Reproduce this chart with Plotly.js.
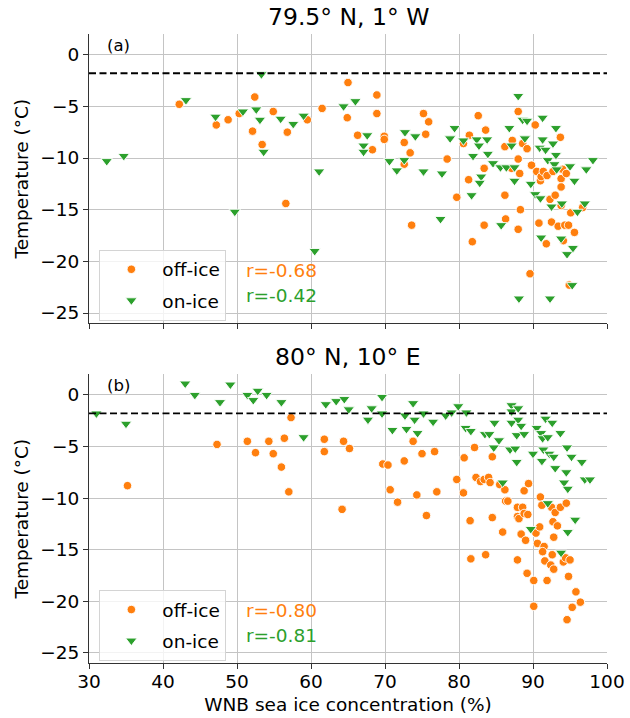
<!DOCTYPE html>
<html>
<head>
<meta charset="utf-8">
<script src="https://cdn.plot.ly/plotly-3.0.1.min.js"></script>
<style>
  html, body { margin: 0; padding: 0; background: #fff; }
  #chart { width: 630px; height: 718px; }
</style>
</head>
<body>
<div id="chart"></div>
<script>
// ── Data ─────────────────────────────────────
const FREEZING = -1.8;

// (a) 79.5° N, 1° W
const aOffX = [42.2, 47.2, 48.8, 50.3, 52.1, 52.4, 53.4, 54.9, 56.6, 56.8, 59.5, 61.5, 64.9, 65.0,
  68.9, 68.9, 66.3, 68.3, 69.9, 69.9, 72.6, 73.4, 72.6, 75.2, 75.9, 75.5, 73.6, 78.4, 79.7, 80.6,
  81.4, 82.6, 83.6, 81.3, 83.4, 81.8, 83.4, 86.2, 87.2, 86.2, 86.3, 88.0, 88.0, 87.1, 88.2, 88.3,
  88.0, 88.6, 89.2, 90.3, 89.8, 90.5, 91.0, 91.1, 91.4, 91.9, 92.7, 93.7, 93.8, 93.8, 94.0, 94.5,
  92.3, 93.0, 93.8, 90.8, 92.5, 93.4, 94.3, 94.8, 95.6, 91.8, 94.1, 89.6, 94.9, 95.1, 96.7];
const aOffY = [-4.8, -6.8, -6.3, -5.7, -7.4, -4.1, -8.7, -5.5, -14.4, -7.5, -6.3, -5.2, -6.1, -2.7,
  -3.9, -5.7, -7.8, -9.2, -7.9, -8.2, -8.5, -9.5, -10.6, -5.7, -6.5, -7.7, -16.5, -10.1, -13.8, -8.6,
  -7.8, -5.9, -7.3, -12.1, -11.0, -18.1, -16.5, -8.9, -8.3, -13.6, -15.9, -5.5, -10.1, -11.0, -11.5, -15.0,
  -16.9, -8.6, -9.1, -6.8, -10.7, -11.3, -12.2, -11.8, -11.3, -11.7, -11.3, -8.0, -12.0, -12.8, -11.1, -11.5,
  -14.0, -13.6, -14.6, -16.3, -16.2, -16.6, -16.5, -16.5, -17.2, -18.3, -18.0, -21.2, -22.3, -15.3, -14.8];

const aOnX = [32.4, 34.7, 43.1, 47.1, 49.7, 50.8, 52.6, 53.1, 53.3, 53.6, 55.9, 57.6, 59.0, 61.1, 60.5, 64.4,
  66.0, 67.6, 67.1, 67.1, 70.6, 71.6, 72.7, 72.6, 74.1, 75.2, 77.7, 77.5, 78.8, 79.4, 80.6, 81.9,
  82.4, 82.7, 83.8, 83.9, 83.0, 82.8, 81.7, 84.6, 85.6, 86.4, 85.7, 86.8, 87.1, 87.5, 87.5, 88.0,
  88.6, 89.2, 88.9, 89.7, 90.3, 91.0, 91.1, 91.3, 91.3, 90.9, 91.7, 92.0, 92.7, 93.1, 93.1, 92.9,
  93.2, 93.9, 92.5, 93.8, 94.6, 95.4, 95.0, 95.6, 96.0, 97.0, 97.2, 98.1, 95.3, 88.1, 92.3];
const aOnY = [-10.3, -9.8, -4.4, -6.0, -15.2, -5.5, -5.3, -6.3, -1.9, -9.4, -6.2, -6.7, -5.9, -11.3, -19.0, -5.0,
  -4.5, -7.8, -8.8, -9.4, -10.3, -11.2, -7.5, -10.2, -7.9, -11.3, -11.5, -15.9, -8.1, -7.1, -8.3, -9.8,
  -8.2, -8.8, -8.2, -9.6, -11.8, -12.4, -13.6, -10.5, -10.9, -10.9, -16.5, -7.1, -8.8, -10.9, -12.2, -4.0,
  -6.3, -6.4, -8.1, -12.5, -13.5, -13.9, -17.7, -6.1, -8.2, -9.0, -9.2, -10.2, -8.6, -7.1, -9.7, -10.6,
  -11.1, -14.4, -14.7, -17.8, -19.3, -18.7, -10.8, -12.2, -15.2, -14.4, -11.1, -10.2, -22.3, -23.6, -23.6];

// (b) 80° N, 10° E
const bOffX = [35.2, 47.3, 51.4, 52.5, 54.3, 54.9, 56.4, 56.0, 57.0, 57.3, 61.8, 61.8, 64.4, 64.2, 65.2,
  69.7, 70.4, 70.7, 71.7, 72.6, 73.8, 74.3, 75.0, 75.6, 76.7, 77.0, 79.7, 80.6, 80.7, 82.1, 81.6,
  81.5, 82.3, 82.9, 83.4, 84.0, 84.2, 84.5, 84.5, 83.6, 85.5, 86.2, 86.3, 86.6, 85.9, 87.9, 88.6,
  87.9, 88.1, 88.8, 89.3, 88.8, 89.4, 88.4, 89.0, 87.9, 89.2, 90.1, 90.1, 90.4, 90.6, 90.9, 91.0,
  91.2, 91.5, 91.3, 92.5, 93.0, 92.7, 93.3, 93.7, 94.5, 92.8, 92.6, 91.6, 92.4, 92.8, 91.9, 94.1,
  94.4, 95.0, 94.8, 95.8, 96.4, 95.3, 94.6];
const bOffY = [-8.8, -4.8, -4.5, -5.6, -4.5, -5.7, -4.2, -7.0, -9.4, -2.2, -4.3, -5.5, -4.5, -11.1, -5.2,
  -6.7, -6.8, -9.2, -10.4, -6.4, -4.5, -9.7, -5.7, -11.7, -5.5, -9.4, -8.2, -9.5, -6.1, -5.1, -15.9,
  -12.2, -8.0, -8.4, -8.2, -8.0, -8.5, -6.0, -11.9, -15.5, -8.7, -9.2, -10.3, -10.3, -13.3, -10.9, -10.9,
  -11.8, -12.0, -11.5, -11.6, -9.3, -8.6, -13.5, -14.1, -16.0, -17.3, -18.0, -20.5, -13.4, -14.4, -12.8, -9.9,
  -10.7, -14.7, -15.2, -10.9, -11.4, -12.3, -12.7, -10.9, -10.5, -13.8, -15.5, -16.1, -16.5, -16.9, -18.0, -16.2,
  -15.8, -16.0, -17.6, -19.1, -20.1, -20.6, -21.8];

const bOnX = [31.0, 35.0, 43.0, 44.3, 47.7, 49.1, 51.4, 52.2, 52.8, 54.0, 56.0, 59.0, 62.0, 63.4, 64.5, 65.1,
  67.7, 68.2, 69.6, 69.6, 71.0, 72.7, 72.9, 73.8, 74.0, 74.4, 75.2, 76.5, 78.2, 79.0, 79.9, 81.0,
  80.9, 81.6, 83.5, 84.1, 84.8, 84.7, 85.4, 85.9, 86.9, 87.1, 87.1, 88.0, 87.1, 88.0, 88.4, 87.8,
  88.8, 87.6, 87.8, 90.0, 89.7, 90.5, 91.1, 91.7, 92.6, 91.3, 92.0, 91.4, 91.2, 92.2, 92.8, 93.7,
  93.0, 92.0, 93.8, 94.6, 95.2, 94.5, 94.2, 94.7, 96.6, 97.0, 97.7, 95.7, 94.7];
const bOnY = [-1.8, -2.8, 1.1, 0.0, -0.7, 1.0, 0.0, -0.5, 0.4, 0.0, -0.7, -4.1, -0.9, -0.6, -0.4, -1.4,
  -2.4, -1.3, -0.2, -1.8, -3.4, -2.0, -3.3, -0.8, -2.4, -3.7, -1.8, -2.6, -2.0, -1.7, -1.1, -1.7,
  -3.2, -3.5, -3.8, -3.8, -2.7, -5.1, -4.4, -8.5, -5.3, -1.0, -1.6, -1.3, -2.7, -2.4, -3.0, -3.9,
  -3.8, -5.2, -6.5, -5.7, -13.0, -3.2, -3.7, -2.3, -2.7, -4.2, -4.1, -5.3, -6.4, -5.7, -6.0, -3.7,
  -7.1, -10.5, -15.3, -5.1, -6.0, -7.5, -8.5, -9.1, -6.5, -8.2, -8.2, -12.1, -13.3];

const panelTitles = ["79.5° N, 1° W", "80° N, 10° E"];
const panelTags = ["(a)", "(b)"];
const rOff = ["r=-0.68", "r=-0.80"];
const rOn = ["r=-0.42", "r=-0.81"];

// ── Style ─────────────────────────────────────
const ORANGE = "#ff7f0e";
const GREEN = "#2ca02c";
const FONT = "DejaVu Sans";

function offTrace(x, y, xa, ya, legend) {
  return {
    type: "scatter", mode: "markers", name: "off-ice",
    x: x, y: y, xaxis: xa, yaxis: ya, legend: legend, legendgroup: legend + "off",
    marker: { symbol: "circle", size: 8.5, color: ORANGE, line: { color: "#fff", width: 0.9 } },
  };
}
function onTrace(x, y, xa, ya, legend) {
  return {
    type: "scatter", mode: "markers", name: "on-ice",
    x: x, y: y, xaxis: xa, yaxis: ya, legend: legend, legendgroup: legend + "on",
    marker: { symbol: "triangle-down", size: 10, color: GREEN, line: { color: "#fff", width: 0.9 } },
  };
}

const traces = [
  offTrace(aOffX, aOffY, "x", "y", "legend"),
  onTrace(aOnX, aOnY, "x", "y", "legend"),
  offTrace(bOffX, bOffY, "x2", "y2", "legend2"),
  onTrace(bOnX, bOnY, "x2", "y2", "legend2"),
];

const xBase = {
  range: [30, 100], autorange: false, dtick: 10, tick0: 30,
  showline: true, linecolor: "#333", linewidth: 1.1,
  ticks: "outside", ticklen: 5, tickwidth: 1, tickcolor: "#333",
  showgrid: true, gridcolor: "#c4c4c4", gridwidth: 1, zeroline: false,
  tickfont: { family: FONT, size: 18.5, color: "#000" },
  ticklabelstandoff: -3,
};
const yBase = {
  range: [-26, 2], autorange: false, dtick: 5, tick0: 0,
  showline: true, linecolor: "#333", linewidth: 1.1,
  ticks: "outside", ticklen: 5, tickwidth: 1, tickcolor: "#333",
  showgrid: true, gridcolor: "#c4c4c4", gridwidth: 1, zeroline: false,
  tickfont: { family: FONT, size: 18.5, color: "#000" },
  title: { text: "Temperature (°C)", font: { family: FONT, size: 18.5, color: "#000" }, standoff: 6 },
};

const legendBase = {
  x: 0.02, xanchor: "left", yanchor: "top",
  bgcolor: "rgba(255,255,255,0.8)", bordercolor: "#d4d4d4", borderwidth: 1,
  font: { family: FONT, size: 18.5, color: "#000" },
  tracegroupgap: 4, itemwidth: 52,
};

const annotations = [];
const shapes = [];
[["x", "y"], ["x2", "y2"]].forEach(([xa, ya], i) => {
  annotations.push(
    { text: panelTitles[i], xref: xa + " domain", yref: ya + " domain", x: 0.5, y: 1,
      xanchor: "center", yanchor: "bottom", yshift: 1, showarrow: false,
      font: { family: FONT, size: 23.5, color: "#000" } },
    { text: panelTags[i], xref: xa + " domain", yref: ya + " domain", x: 0.03, y: 1,
      xanchor: "left", yanchor: "top", showarrow: false,
      font: { family: FONT, size: 16.5, color: "#000" } },
    { text: rOff[i], xref: xa + " domain", yref: ya + " domain", x: 0.3, y: 0.183,
      xanchor: "left", yanchor: "middle", showarrow: false,
      font: { family: FONT, size: 18.5, color: ORANGE } },
    { text: rOn[i], xref: xa + " domain", yref: ya + " domain", x: 0.3, y: 0.096,
      xanchor: "left", yanchor: "middle", showarrow: false,
      font: { family: FONT, size: 18.5, color: GREEN } },
  );
  shapes.push({
    type: "line", xref: xa + " domain", yref: ya, x0: 0, x1: 1, y0: FREEZING, y1: FREEZING,
    line: { color: "#000", width: 1.8, dash: "7px,3.5px" },
  });
});

const layout = {
  width: 630, height: 718,
  margin: { l: 89, r: 23, t: 34, b: 55 },
  paper_bgcolor: "#fff", plot_bgcolor: "#fff",
  font: { family: FONT, color: "#000" },
  showlegend: true,
  xaxis: { ...xBase, anchor: "y", showticklabels: false },
  yaxis: { ...yBase, anchor: "x", domain: [0.54, 1] },
  xaxis2: {
    ...xBase, anchor: "y2",
    title: { text: "WNB sea ice concentration (%)", font: { family: FONT, size: 18.5, color: "#000" }, standoff: 6 },
  },
  yaxis2: { ...yBase, anchor: "x2", domain: [0, 0.459] },
  legend: { ...legendBase, y: 0.657 },
  legend2: { ...legendBase, y: 0.116 },
  annotations: annotations,
  shapes: shapes,
};

Plotly.newPlot("chart", traces, layout, { staticPlot: true, displayModeBar: false });
</script>
</body>
</html>
